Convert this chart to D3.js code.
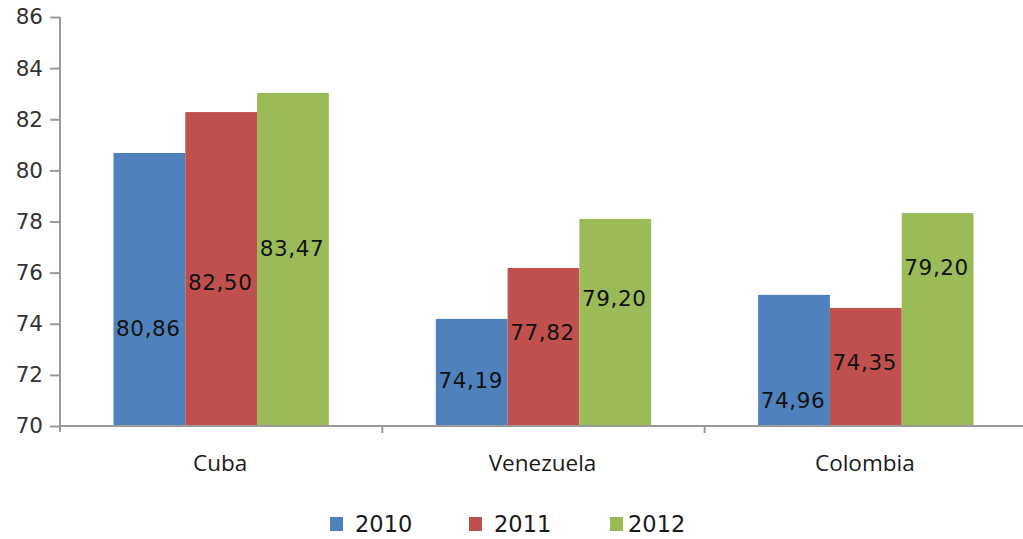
<!DOCTYPE html>
<html>
<head>
<meta charset="utf-8">
<script src="https://cdn.jsdelivr.net/npm/d3@7"></script>
<style>
  body { margin: 0; background: #fff; }
  svg { display: block; }
</style>
</head>
<body>
<div id="chart"></div>
<script>
const countries = ["Cuba", "Venezuela", "Colombia"];
const years = ["2010", "2011", "2012"];
// bar heights as drawn
const values2010 = [80.68, 74.19, 75.13];
const values2011 = [82.28, 76.18, 74.62];
const values2012 = [83.03, 78.10, 78.33];
// label text shown on the bars
const labels2010 = ["80,86", "74,19", "74,96"];
const labels2011 = ["82,50", "77,82", "74,35"];
const labels2012 = ["83,47", "79,20", "79,20"];
// height (in axis units) where each label sits
const labelAt2010 = [73.83, 71.80, 71.02];
const labelAt2011 = [75.63, 73.68, 72.50];
const labelAt2012 = [76.96, 75.00, 76.22];
const yTicks = [70, 72, 74, 76, 78, 80, 82, 84, 86];

const COLORS = { "2010": "#4f81bd", "2011": "#c0504d", "2012": "#9bbb59" };
const NUM_FONT = "'DejaVu Sans', Verdana, sans-serif";

const series = [
  { year: "2010", values: values2010, labels: labels2010, at: labelAt2010 },
  { year: "2011", values: values2011, labels: labels2011, at: labelAt2011 },
  { year: "2012", values: values2012, labels: labels2012, at: labelAt2012 }
];

const W = 1023, H = 539;
const plot = { left: 60, right: 1027, top: 17, bottom: 426 };

const svg = d3.select("#chart").append("svg")
  .attr("width", W).attr("height", H);

const x0 = d3.scaleBand().domain(countries).range([plot.left, plot.right]).padding(0);
const x1 = d3.scaleBand().domain(years)
  .range([53.5, x0.bandwidth() - 53.5]).padding(0);
const y = d3.scaleLinear().domain([70, 86]).range([plot.bottom, plot.top]);

// bars
series.forEach(s => {
  svg.append("g").selectAll("rect")
    .data(countries.map((c, i) => ({ c, v: s.values[i] })))
    .join("rect")
    .attr("x", d => x0(d.c) + x1(s.year))
    .attr("y", d => y(d.v))
    .attr("width", x1.bandwidth())
    .attr("height", d => y(70) - y(d.v))
    .attr("fill", COLORS[s.year]);
});

// y axis
const yAxis = svg.append("g")
  .attr("transform", `translate(${plot.left},0)`)
  .call(d3.axisLeft(y).tickValues(yTicks).tickSize(10).tickPadding(7).tickFormat(d3.format("d")));
yAxis.select(".domain").attr("d", `M0,${plot.top}V${plot.bottom + 6}`).attr("stroke", "#9a9a9a").attr("stroke-width", 2);
yAxis.selectAll(".tick line").attr("stroke", "#9a9a9a").attr("stroke-width", 2);
yAxis.selectAll(".tick text")
  .attr("font-family", NUM_FONT)
  .attr("font-size", 21.5).attr("fill", "#333");

// x axis
const xAxis = svg.append("g")
  .attr("transform", `translate(0,${plot.bottom})`);
xAxis.append("line")
  .attr("x1", plot.left).attr("x2", W).attr("y1", 0).attr("y2", 0)
  .attr("stroke", "#9a9a9a").attr("stroke-width", 2);
xAxis.selectAll(".sep")
  .data(countries.slice(1))
  .join("line")
  .attr("x1", d => x0(d)).attr("x2", d => x0(d))
  .attr("y1", 0).attr("y2", 7)
  .attr("stroke", "#9a9a9a").attr("stroke-width", 2);
xAxis.selectAll(".cat")
  .data(countries)
  .join("text")
  .attr("x", d => x0(d) + x0.bandwidth() / 2 - 1)
  .attr("y", 45)
  .attr("text-anchor", "middle")
  .attr("font-family", "'Open Sans', 'Noto Sans', sans-serif")
  .attr("font-size", 22.5).attr("fill", "#1a1a1a")
  .text(d => d);

// data labels
series.forEach(s => {
  svg.append("g").selectAll("text")
    .data(countries.map((c, i) => ({ c, t: s.labels[i], at: s.at[i] })))
    .join("text")
    .attr("x", d => x0(d.c) + x1(s.year) + x1.bandwidth() / 2 - 1)
    .attr("y", d => y(d.at))
    .attr("dy", "0.36em")
    .attr("text-anchor", "middle")
    .attr("font-family", NUM_FONT)
    .attr("font-size", 21.5).attr("letter-spacing", 0.6).attr("fill", "#111")
    .text(d => d.t);
});

// legend
const legendX = [330, 469, 610];
const legend = svg.append("g").attr("transform", "translate(0,524)");
years.forEach((yr, i) => {
  legend.append("rect")
    .attr("x", legendX[i]).attr("y", -7)
    .attr("width", 13).attr("height", 14)
    .attr("fill", COLORS[yr]);
  legend.append("text")
    .attr("x", legendX[i] + (i === 2 ? 18 : 25)).attr("y", 0)
    .attr("dy", "0.36em")
    .attr("font-family", NUM_FONT)
    .attr("font-size", 22.5).attr("fill", "#1a1a1a")
    .text(yr);
});
</script>
</body>
</html>
